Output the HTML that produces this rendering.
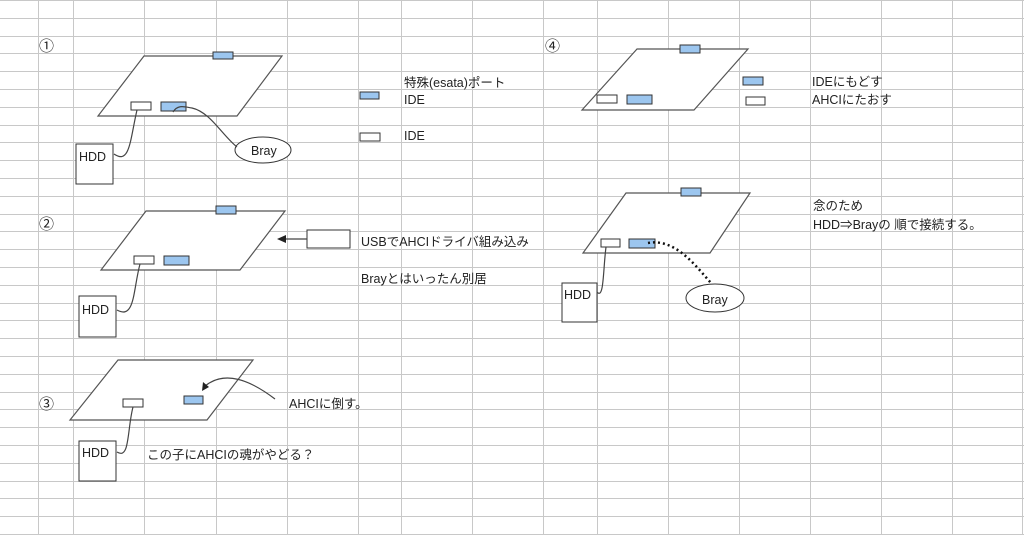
<!DOCTYPE html>
<html><head><meta charset="utf-8"><style>
html,body{margin:0;padding:0;background:#fff;}
svg{display:block;}
text{font-family:"Liberation Sans","Noto Sans CJK JP",sans-serif;font-size:12.5px;fill:#222;}
</style></head><body>
<svg width="1024" height="535" viewBox="0 0 1024 535" xmlns="http://www.w3.org/2000/svg">
<g stroke="#c8c8c8" stroke-width="1">
<line x1="38.5" y1="0" x2="38.5" y2="535"/><line x1="73.5" y1="0" x2="73.5" y2="535"/>
<line x1="144.5" y1="0" x2="144.5" y2="535"/><line x1="216.5" y1="0" x2="216.5" y2="535"/>
<line x1="287.5" y1="0" x2="287.5" y2="535"/><line x1="358.5" y1="0" x2="358.5" y2="535"/>
<line x1="401.5" y1="0" x2="401.5" y2="535"/><line x1="472.5" y1="0" x2="472.5" y2="535"/>
<line x1="543.5" y1="0" x2="543.5" y2="535"/><line x1="597.5" y1="0" x2="597.5" y2="535"/>
<line x1="668.5" y1="0" x2="668.5" y2="535"/><line x1="739.5" y1="0" x2="739.5" y2="535"/>
<line x1="810.5" y1="0" x2="810.5" y2="535"/><line x1="881.5" y1="0" x2="881.5" y2="535"/>
<line x1="952.5" y1="0" x2="952.5" y2="535"/><line x1="1022.5" y1="0" x2="1022.5" y2="535"/>
</g>
<g stroke="#c8c8c8" stroke-width="1" id="rows"></g>
<script>
var g=document.getElementById('rows');
for(var i=0;i<=30;i++){var y=Math.round(i*17.8)+0.5;var l=document.createElementNS('http://www.w3.org/2000/svg','line');l.setAttribute('x1',0);l.setAttribute('x2',1024);l.setAttribute('y1',y);l.setAttribute('y2',y);g.appendChild(l);}
</script>
<g fill="#fff" stroke="#555" stroke-width="1.2">
<polygon points="144,56 282,56 237,116 98,116"/>
<polygon points="146,211 285,211 240,270 101,270"/>
<polygon points="118,360 253,360 207,420 70,420"/>
<polygon points="637,49 748,49 694,110 582,110"/>
<polygon points="626,193 750,193 710,253 583,253"/>
</g>
<g stroke="#333" stroke-width="1">
<rect x="213" y="52" width="20" height="7" fill="#9cc6ef"/>
<rect x="131" y="102" width="20" height="8" fill="#fff"/>
<rect x="161" y="102" width="25" height="9" fill="#9cc6ef"/>
<rect x="76" y="144" width="37" height="40" fill="#fff"/>
<rect x="216" y="206" width="20" height="8" fill="#9cc6ef"/>
<rect x="134" y="256" width="20" height="8" fill="#fff"/>
<rect x="164" y="256" width="25" height="9" fill="#9cc6ef"/>
<rect x="79" y="296" width="37" height="41" fill="#fff"/>
<rect x="307" y="230" width="43" height="18" fill="#fff"/>
<rect x="123" y="399" width="20" height="8" fill="#fff"/>
<rect x="184" y="396" width="19" height="8" fill="#9cc6ef"/>
<rect x="79" y="441" width="37" height="40" fill="#fff"/>
<rect x="360" y="92" width="19" height="7" fill="#9cc6ef"/>
<rect x="360" y="133" width="20" height="8" fill="#fff"/>
<rect x="680" y="45" width="20" height="8" fill="#9cc6ef"/>
<rect x="597" y="95" width="20" height="8" fill="#fff"/>
<rect x="627" y="95" width="25" height="9" fill="#9cc6ef"/>
<rect x="743" y="77" width="20" height="8" fill="#9cc6ef"/>
<rect x="746" y="97" width="19" height="8" fill="#fff"/>
<rect x="681" y="188" width="20" height="8" fill="#9cc6ef"/>
<rect x="601" y="239" width="19" height="8" fill="#fff"/>
<rect x="629" y="239" width="26" height="9" fill="#9cc6ef"/>
<rect x="562" y="283" width="35" height="39" fill="#fff"/>
<ellipse cx="263" cy="150" rx="28" ry="13" fill="#fff"/>
<ellipse cx="715" cy="298" rx="29" ry="14" fill="#fff"/>
</g>
<g fill="none" stroke="#444" stroke-width="1.2">
<path d="M137,110 C130,140 130,165 114,154"/>
<path d="M173,112 C178,104 185,107 192,108 C210,112 222,135 237,147"/>
<path d="M140,264 C133,290 135,320 117,310"/>
<path d="M133,407 C127,430 130,460 117,452"/>
<path d="M275,399 C250,380 225,370 205,386"/>
<path d="M307,239 L284,239"/>
<path d="M606,247 C603,270 604,300 597,292"/>
</g>
<polygon points="277,239 286,235 286,243" fill="#222"/>
<polygon points="202,391 203,382 209,387" fill="#222"/>
<path d="M648,243 C675,238 695,265 711,283" fill="none" stroke="#111" stroke-width="2.5" stroke-dasharray="2,3"/>
<text x="39" y="51" style="font-size:15px">①</text>
<text x="39" y="229" style="font-size:15px">②</text>
<text x="39" y="409" style="font-size:15px">③</text>
<text x="545" y="51" style="font-size:15px">④</text>
<text x="79" y="161" font-size="13">HDD</text>
<text x="82" y="314" font-size="13">HDD</text>
<text x="82" y="457" font-size="13">HDD</text>
<text x="564" y="299" font-size="13">HDD</text>
<text x="251" y="155">Bray</text>
<text x="702" y="304">Bray</text>
<text x="404" y="87">特殊(esata)ポート</text>
<text x="404" y="104">IDE</text>
<text x="404" y="140">IDE</text>
<text x="361" y="246">USBでAHCIドライバ組み込み</text>
<text x="361" y="283">Brayとはいったん別居</text>
<text x="289" y="408">AHCIに倒す。</text>
<text x="147" y="459">この子にAHCIの魂がやどる？</text>
<text x="812" y="86">IDEにもどす</text>
<text x="812" y="104">AHCIにたおす</text>
<text x="813" y="210">念のため</text>
<text x="813" y="229">HDD⇒Brayの 順で接続する。</text>
</svg>
</body></html>
